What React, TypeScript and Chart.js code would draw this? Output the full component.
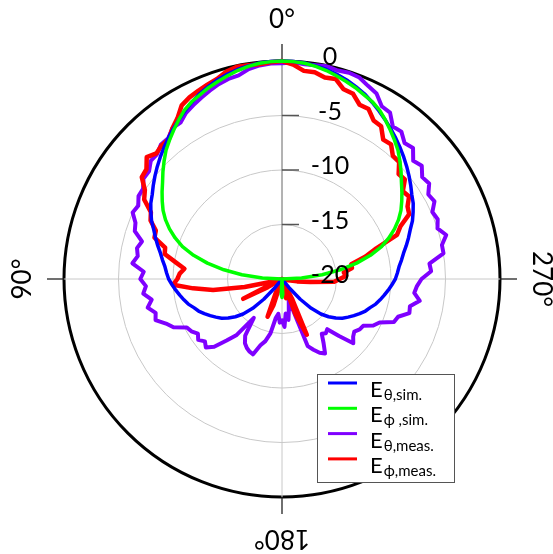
import React, { useEffect, useRef } from "react";
import { Chart, registerables } from "chart.js";

Chart.register(...registerables);

// Angles (degrees, counter-clockwise from the top: 90° on the left, 270° on the right)
const ANGLE_STEP = 3;
const angles: number[] = Array.from({ length: 120 }, (_, i) => i * ANGLE_STEP);

// Radial axis (dB)
const radialTicks = [-20, -15, -10, -5, 0];
const R_MIN = -20;
const R_MAX = 0;

// Angular labels
const cardinalAngles = [0, 90, 180, 270];
const cardinalLabels = ["0°", "90°", "180°", "270°"];

// Series names: main letter + subscript
const seriesMain = ["E", "E", "E", "E"];
const seriesSub = ["θ,sim.", "ϕ ,sim.", "θ,meas.", "ϕ,meas."];
const seriesColors = ["#0000ff", "#00ff00", "#7f00ff", "#ff0000"];

// E_theta simulated (dB), every 3° starting at 0°
const eThetaSim = [
  0, -0.02, -0.08, -0.2, -0.35, -0.55, -0.8, -1.1, -1.4, -1.8,
  -2.2, -2.6, -3.0, -3.4, -3.8, -4.2, -4.6, -5.0, -5.4, -5.8,
  -6.1, -6.5, -6.9, -7.4, -7.8, -8.2, -8.6, -8.9, -9.2, -9.4,
  -9.6, -9.9, -10.2, -10.5, -10.8, -11.1, -11.5, -11.8, -12.2, -12.6,
  -13.0, -13.4, -13.9, -14.5, -15.2, -16.2, -17.5, -19.0, -20, -20,
  -20, -20, -20, -20, -20, -20, -20, -20, -20, -20,
  -20, -20, -20, -20, -20, -20, -20, -20, -20, -20,
  -20, -20, -20, -19.0, -17.5, -16.2, -15.2, -14.5, -13.9, -13.4,
  -13.0, -12.6, -12.2, -11.8, -11.5, -11.1, -10.8, -10.5, -10.2, -9.9,
  -9.6, -9.4, -9.2, -8.9, -8.6, -8.2, -7.8, -7.4, -6.9, -6.5,
  -6.1, -5.8, -5.4, -5.0, -4.6, -4.2, -3.8, -3.4, -3.0, -2.6,
  -2.2, -1.8, -1.4, -1.1, -0.8, -0.55, -0.35, -0.2, -0.08, -0.02,
];

// E_phi simulated (dB)
const ePhiSim = [
  0, -0.03, -0.1, -0.25, -0.45, -0.7, -0.95, -1.2, -1.5, -1.75,
  -2.1, -2.6, -3.1, -3.6, -4.1, -4.7, -5.3, -5.9, -6.4, -6.9,
  -7.4, -8.0, -8.7, -9.5, -10.4, -11.6, -13.0, -14.6, -16.3, -18.2,
  -20, -20, -20, -20, -20, -20, -20, -20, -20, -20,
  -20, -20, -20, -20, -20, -20, -20, -20, -20, -20,
  -20, -20, -20, -20, -20, -20, -20, -20, -20, -18.6,
  -18.3, -18.6, -20, -20, -20, -20, -20, -20, -20, -20,
  -20, -20, -20, -20, -20, -20, -20, -20, -20, -20,
  -20, -20, -20, -20, -20, -20, -20, -20, -20, -20,
  -20, -18.2, -16.3, -14.6, -13.0, -11.6, -10.4, -9.5, -8.7, -8.0,
  -7.4, -6.9, -6.4, -5.9, -5.3, -4.7, -4.1, -3.6, -3.1, -2.6,
  -2.1, -1.75, -1.5, -1.2, -0.95, -0.7, -0.45, -0.25, -0.1, -0.03,
];

// E_theta measured (dB)
const eThetaMeas = [
  -0.2, -0.2, -0.3, -0.5, -0.9, -1.0, -1.2, -1.5, -1.8, -2.1,
  -2.4, -2.9, -2.9, -3.4, -3.4, -3.8, -3.8, -4.3, -4.3, -4.8,
  -4.8, -5.2, -5.0, -5.6, -5.8, -6.7, -6.4, -6.6, -6.2, -7.3,
  -7.0, -7.5, -7.2, -7.9, -7.4, -8.0, -7.8, -8.6, -9.1, -10.2,
  -10.4, -10.8, -10.5, -10.9, -10.6, -11.2, -12.4, -13.4, -15.6, -13.8,
  -13.2, -12.9, -12.7, -12.6, -13.6, -14.1, -14.9, -16.4, -16.8, -16.0,
  -16.2, -15.6, -16.8, -16.2, -17.0, -17.6, -18.0, -13.4, -12.9, -12.4,
  -12.1, -13.0, -13.8, -13.6, -13.8, -12.6, -11.2, -11.6, -11.8, -11.5,
  -11.4, -10.6, -10.2, -9.0, -8.8, -7.9, -8.0, -7.2, -7.8, -7.6,
  -7.2, -6.3, -6.4, -5.0, -5.0, -4.4, -5.0, -4.7, -4.9, -4.3,
  -4.5, -3.9, -4.1, -3.5, -3.8, -3.0, -3.2, -2.6, -2.7, -1.8,
  -1.7, -0.9, -0.6, -0.2, -0.1, -0.2, -0.05, -0.15, -0.2, -0.1,
];

// E_phi measured (dB)
const ePhiMeas = [
  0, -0.1, -0.2, -0.15, -0.1, -0.3, -0.7, -0.9, -1.1, -1.3,
  -1.6, -2.4, -2.9, -3.5, -3.5, -3.7, -3.3, -4.0, -4.1, -5.0,
  -5.4, -6.5, -6.8, -7.6, -7.7, -8.9, -9.0, -10.1, -11.0, -10.6,
  -10.4, -10.0, -11.8, -13.6, -16.5, -19.0, -20, -20, -19.5, -16.0,
  -18.5, -20, -20, -20, -20, -20, -20, -20, -20, -20,
  -20, -20, -18.5, -16.3, -17.5, -20, -20, -20, -20, -19.0,
  -20, -20, -20, -19.0, -18.2, -19.5, -20, -16.5, -14.4, -18.0,
  -20, -20, -20, -20, -20, -20, -20, -20, -20, -20,
  -20, -20, -20, -20, -20, -20, -19.4, -18.6, -17.4, -15.2,
  -14.7, -14.1, -14.3, -13.5, -13.5, -12.1, -10.9, -8.7, -8.1, -6.9,
  -6.7, -6.1, -6.3, -5.5, -5.6, -4.8, -4.8, -4.1, -4.2, -3.3,
  -3.2, -2.5, -2.5, -1.8, -1.7, -1.0, -1.1, -0.8, -0.8, -0.3,
];

const N = angles.length;
// Chart.js radar runs clockwise; the reference runs counter-clockwise.
const toRadar = (vals: number[]) => angles.map((_, i) => vals[(N - i) % N]);
const angleToIndex = (a: number) => ((N - a / ANGLE_STEP) % N + N) % N;

const FONT = "Lato, 'Noto Sans', sans-serif";

const decorPlugin = {
  id: "decor",
  beforeDatasetsDraw(chart: any) {
    const s = chart.scales.r;
    const ctx = chart.ctx as CanvasRenderingContext2D;
    const R = s.getDistanceFromCenterForValue(R_MAX);
    ctx.save();
    ctx.strokeStyle = "#222";
    ctx.lineWidth = 1.3;
    cardinalAngles.forEach((a) => {
      const idx = angleToIndex(a);
      const p1 = s.getPointPosition(idx, R);
      const p2 = s.getPointPosition(idx, R + 17);
      ctx.beginPath();
      ctx.moveTo(p1.x, p1.y);
      ctx.lineTo(p2.x, p2.y);
      ctx.stroke();
    });
    ctx.strokeStyle = "#555";
    ctx.lineWidth = 1.5;
    radialTicks.forEach((v) => {
      if (v === R_MIN || v === R_MAX) return;
      const p = s.getPointPosition(0, s.getDistanceFromCenterForValue(v));
      ctx.beginPath();
      ctx.moveTo(p.x, p.y);
      ctx.lineTo(p.x + 17, p.y);
      ctx.stroke();
    });
    ctx.restore();
  },
  afterDatasetsDraw(chart: any) {
    const s = chart.scales.r;
    const ctx = chart.ctx as CanvasRenderingContext2D;
    ctx.save();
    ctx.fillStyle = "#000";
    // radial tick labels
    ctx.font = `25px ${FONT}`;
    ctx.textAlign = "center";
    ctx.textBaseline = "middle";
    radialTicks.forEach((v) => {
      const p = s.getPointPosition(0, s.getDistanceFromCenterForValue(v));
      ctx.fillText(String(v), p.x + 48, p.y - 4);
    });
    // angular labels, rotated tangentially
    const R = s.getDistanceFromCenterForValue(R_MAX);
    ctx.font = `26px ${FONT}`;
    cardinalAngles.forEach((a, k) => {
      const idx = angleToIndex(a);
      const p = s.getPointPosition(idx, R + 41);
      ctx.save();
      ctx.translate(p.x, p.y);
      ctx.rotate((-a * Math.PI) / 180);
      ctx.fillText(cardinalLabels[k], 0, 0);
      ctx.restore();
    });
    // legend
    const bx = 317, by = 374, bw = 137, bh = 108;
    ctx.fillStyle = "#fff";
    ctx.fillRect(bx, by, bw, bh);
    ctx.strokeStyle = "#555";
    ctx.lineWidth = 1;
    ctx.strokeRect(bx + 0.5, by + 0.5, bw, bh);
    ctx.textAlign = "left";
    ctx.textBaseline = "alphabetic";
    seriesMain.forEach((m, i) => {
      const y = by + 9 + i * 25.3;
      ctx.strokeStyle = seriesColors[i];
      ctx.lineWidth = 3;
      ctx.beginPath();
      ctx.moveTo(bx + 11, y);
      ctx.lineTo(bx + 40, y);
      ctx.stroke();
      ctx.fillStyle = "#000";
      ctx.font = `22px ${FONT}`;
      ctx.fillText(m, bx + 53, y + 14);
      const w = ctx.measureText(m).width;
      ctx.font = `15px ${FONT}`;
      ctx.fillText(seriesSub[i], bx + 53 + w + 1, y + 17);
    });
    ctx.restore();
  },
};

export default function App() {
  const ref = useRef<HTMLCanvasElement | null>(null);
  useEffect(() => {
    if (!ref.current) return;
    const chart = new Chart(ref.current, {
      type: "radar",
      data: {
        labels: angles.map((_, i) => String(angles[(N - i) % N])),
        datasets: [
          { label: "Eθ,sim.", data: toRadar(eThetaSim), borderColor: seriesColors[0], borderWidth: 3.5, order: 1 },
          { label: "Eϕ ,sim.", data: toRadar(ePhiSim), borderColor: seriesColors[1], borderWidth: 3.5, order: 0 },
          { label: "Eθ,meas.", data: toRadar(eThetaMeas), borderColor: seriesColors[2], borderWidth: 4, order: 3 },
          { label: "Eϕ,meas.", data: toRadar(ePhiMeas), borderColor: seriesColors[3], borderWidth: 4.5, order: 2 },
        ].map((d) => ({
          ...d,
          fill: false,
          pointRadius: 0,
          pointHitRadius: 0,
          tension: 0,
          borderJoinStyle: "round" as const,
          backgroundColor: "transparent",
        })),
      },
      options: {
        animation: false,
        responsive: true,
        maintainAspectRatio: false,
        layout: { padding: { left: 64, right: 53, top: 61, bottom: 57 } },
        plugins: { legend: { display: false }, tooltip: { enabled: false } },
        scales: {
          r: {
            min: R_MIN,
            max: R_MAX,
            beginAtZero: false,
            ticks: { display: false, stepSize: 5 },
            pointLabels: { display: false },
            grid: {
              circular: true,
              color: (c: any) => (c.tick && c.tick.value === R_MAX ? "#000" : "#c8c8c8"),
              lineWidth: (c: any) => (c.tick && c.tick.value === R_MAX ? 3 : 1),
            },
            angleLines: {
              display: true,
              color: (c: any) => (c.index === 0 ? "#666" : "#c8c8c8"),
              lineWidth: (c: any) => (c.index % (N / 4) === 0 ? 1 : 0),
            },
          },
        },
      },
      plugins: [decorPlugin],
    } as any);
    return () => chart.destroy();
  }, []);
  return (
    <div style={{ position: "fixed", left: 0, top: 0, width: 553, height: 554, background: "#fff" }}>
      <canvas ref={ref} />
    </div>
  );
}
